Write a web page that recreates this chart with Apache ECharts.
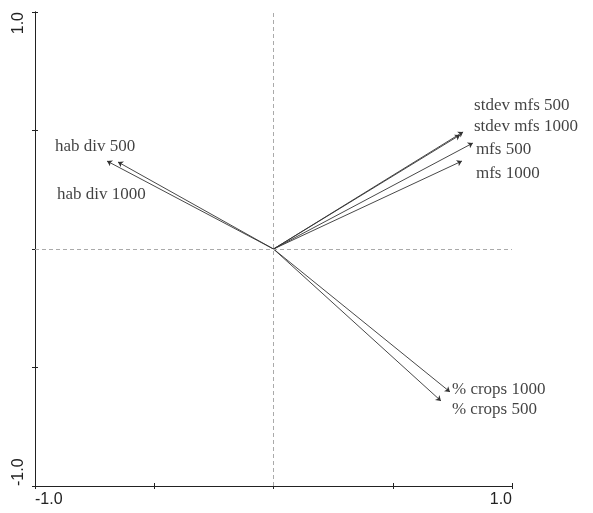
<!DOCTYPE html>
<html>
<head>
<meta charset="utf-8">
<script src="https://cdn.jsdelivr.net/npm/echarts@6/dist/echarts.min.js"></script>
<style>
  html, body { margin: 0; padding: 0; background: #fff; }
  #chart { width: 593px; height: 513px; }
</style>
</head>
<body>
<div id="chart"></div>
<script>
// Variable names for the biplot vectors
const variables = [
  'stdev mfs 500', 'stdev mfs 1000', 'mfs 500', 'mfs 1000',
  'hab div 500', 'hab div 1000', '% crops 1000', '% crops 500'
];
// Vector end points (axis 1, axis 2)
const axis1 = [0.795, 0.782, 0.836, 0.790, -0.698, -0.652, 0.740, 0.702];
const axis2 = [0.494, 0.481, 0.447, 0.371, 0.371, 0.367, -0.603, -0.641];
// Label offsets from each arrow tip, in pixels
const labelOffsetX = [11, 14, 3, 14, -52, -61, 2, 11];
const labelOffsetY = [-26, -8, 6, 12, -15, 33, -2, 9];
// Axis range and tick labels
const axisMin = -1, axisMax = 1, tickStep = 0.5;
const tickLabels = { '-1': '-1.0', '1': '1.0' };

const chart = echarts.init(document.getElementById('chart'), null, { renderer: 'canvas' });

const fmt = v => tickLabels[String(Math.round(v * 10) / 10)] || '';
const axisLineStyle = { color: '#222', width: 1 };

const grid = { left: 35, right: 81, top: 12, bottom: 27 };

// Two stacked copies of each axis give ticks that cross the axis line
function makeX(showLabels, inside) {
  return {
    type: 'value', min: axisMin, max: axisMax, interval: tickStep,
    position: 'bottom',
    axisLine: { show: true, onZero: false, lineStyle: axisLineStyle },
    axisTick: { show: true, inside: inside, length: 3, lineStyle: axisLineStyle },
    axisLabel: {
      show: showLabels, formatter: fmt, margin: 6,
      fontFamily: 'Liberation Sans', fontSize: 16, color: '#222',
      alignMinLabel: 'left', alignMaxLabel: 'right'
    },
    splitLine: { show: false }
  };
}
function makeY(showLabels, inside) {
  return {
    type: 'value', min: axisMin, max: axisMax, interval: tickStep,
    position: 'left',
    axisLine: { show: true, onZero: false, lineStyle: axisLineStyle },
    axisTick: { show: true, inside: inside, length: 3, lineStyle: axisLineStyle },
    axisLabel: {
      show: showLabels, formatter: fmt, margin: 8, rotate: 90,
      fontFamily: 'Liberation Sans', fontSize: 16, color: '#222',
      alignMinLabel: 'left', alignMaxLabel: 'right'
    },
    splitLine: { show: false }
  };
}

const vectorLines = variables.map((name, i) => ({
  name: name,
  coords: [[0, 0], [axis1[i], axis2[i]]]
}));

const tips = variables.map((name, i) => ({
  name: name,
  value: [axis1[i], axis2[i]],
  label: { offset: [labelOffsetX[i], labelOffsetY[i]] }
}));

chart.setOption({
  animation: false,
  backgroundColor: '#fff',
  grid: grid,
  xAxis: [makeX(true, false), makeX(false, true)],
  yAxis: [makeY(true, false), makeY(false, true)],
  series: [
    {
      // dashed reference lines through the origin
      type: 'line', data: [], silent: true,
      markLine: {
        symbol: 'none', silent: true, label: { show: false },
        lineStyle: { color: '#aaa', type: [4, 3], width: 1 },
        data: [{ xAxis: 0 }, { yAxis: 0 }]
      }
    },
    {
      type: 'lines', coordinateSystem: 'cartesian2d',
      symbol: ['none', 'arrow'], symbolSize: [0, 5],
      lineStyle: { color: '#333', width: 0.9, opacity: 1 },
      data: vectorLines
    },
    {
      type: 'scatter', symbolSize: 0,
      label: {
        show: true, position: 'right', distance: 0,
        formatter: p => p.name,
        fontFamily: 'Liberation Serif', fontSize: 17, color: '#111'
      },
      data: tips
    }
  ]
});
</script>
</body>
</html>
